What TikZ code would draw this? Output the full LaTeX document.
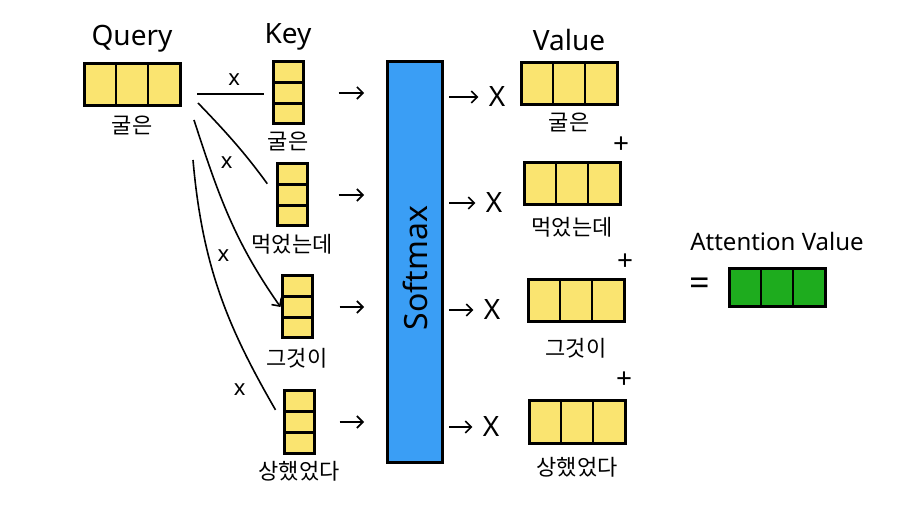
\documentclass[tikz,border=0pt]{standalone}
\usepackage{fontspec}
\setmainfont{Noto Sans}
\newfontfamily\kr{Noto Sans CJK KR}
\usepackage{xcolor}
\usetikzlibrary{positioning,arrows.meta}

\definecolor{cellyellow}{RGB}{250,228,112}
\definecolor{smblue}{RGB}{58,158,245}
\definecolor{attgreen}{RGB}{30,172,30}

\tikzset{
  hbox/.style={draw,line width=1.5pt,fill=cellyellow,minimum width=48pt,minimum height=21pt,inner sep=0pt,
    path picture={\draw[line width=1.2pt]
      ([xshift=-8pt]path picture bounding box.north) -- ([xshift=-8pt]path picture bounding box.south)
      ([xshift=8pt]path picture bounding box.north) -- ([xshift=8pt]path picture bounding box.south);}},
  vbox/.style={draw,line width=1.5pt,fill=cellyellow,minimum width=15pt,minimum height=31pt,inner sep=0pt,
    path picture={\draw[line width=1.2pt]
      ([yshift=-5.2pt]path picture bounding box.west) -- ([yshift=-5.2pt]path picture bounding box.east)
      ([yshift=5.2pt]path picture bounding box.west) -- ([yshift=5.2pt]path picture bounding box.east);}},
  word/.style={font=\kr\fontsize{11}{12}\selectfont,inner sep=1pt},
  head/.style={font=\fontsize{14}{16}\selectfont,inner sep=1pt},
  mul/.style={font=\fontsize{14}{14}\selectfont,inner sep=1pt},
  xlab/.style={font=\fontsize{11}{11}\selectfont,inner sep=1pt},
  link/.style={line width=0.8pt},
  go/.style={->,line width=0.8pt}
}

\begin{document}
\begin{tikzpicture}[x=0.5pt,y=-0.5pt,node distance=2pt,>={Straight Barb[length=3pt,width=6pt]}]
\useasboundingbox (0,0) rectangle (898,512);

% query
\node[hbox] (q) at (132,85) {};
\node[head,above=4pt of q] (qt) {Query};
\node[word,below=3pt of q] (ql) {굴은};

% keys
\node[vbox] (k1) at (288,93) {};
\node[vbox] (k2) at (292,195) {};
\node[vbox] (k3) at (297,307) {};
\node[vbox] (k4) at (299,422) {};
\node[head,above=4pt of k1] (kt) {Key};
\node[word,below=of k1] (kl1) {굴은};
\node[word,below=of k2] (kl2) {먹었는데};
\node[word,below=3pt of k3] (kl3) {그것이};
\node[word,below=of k4] (kl4) {상했었다};

% softmax
\node[draw,line width=1.5pt,fill=smblue,minimum width=27.5pt,minimum height=200pt] (sm) at (415,262) {};
\node[rotate=90,font=\fontsize{16}{18}\selectfont] (smt) at (415,268) {Softmax};

% values
\node[mul] (m1) at (497,97) {X};
\node[mul] (m2) at (494,203) {X};
\node[mul] (m3) at (492,310) {X};
\node[mul] (m4) at (491,427) {X};
\node[hbox] (v1) at (569,84) {};
\node[hbox] (v2) at (572,184) {};
\node[hbox] (v3) at (576,301) {};
\node[hbox] (v4) at (577,422) {};
\node[head,above=4pt of v1] (vt) {Value};
\node[word,below=2pt of v1] (vl1) {굴은};
\node[word,below=4pt of v2] (vl2) {먹었는데};
\node[word,below=6pt of v3] (vl3) {그것이};
\node[word,below=5pt of v4] (vl4) {상했었다};
\node[mul] (p1) at (621,145) {+};
\node[mul] (p2) at (625,262) {+};
\node[mul] (p3) at (624,380) {+};

% result
\node[hbox,fill=attgreen,minimum height=19pt] (att) at (777,288) {};
\node[head,font=\fontsize{12}{14}\selectfont,above=7pt of att] (attt) {Attention Value};
\node[mul,font=\fontsize{18}{18}\selectfont] (eq) at (700,287) {=};

% query x key
\coordinate (qa) at (197,94);
\coordinate (qb) at (198,103);
\coordinate (qc) at (194,120);
\coordinate (qd) at (193,160);
\draw[link,shorten >=4pt] (qa) -- node[above=3pt,xlab]{x} (qa -| k1.west);
\draw[link,shorten >=7pt] (qb) to[bend left=4] node[pos=0.68,left=8pt,xlab]{x} (k2.west);
\draw[link,->] (qc) to[out=-72,in=125] node[pos=0.72,left=8pt,xlab]{x} (k3.west);
\draw[link,shorten >=7pt] (qd) to[out=-85,in=120] node[pos=0.88,left=8pt,xlab]{x} (k4.west);

% into softmax
\draw[go,shorten <=17pt,shorten >=11pt] (k1.east) -- (k1.east -| sm.west);
\draw[go,shorten <=15pt,shorten >=11pt] (k2.east) -- (k2.east -| sm.west);
\draw[go,shorten <=13pt,shorten >=11pt] (k3.east) -- (k3.east -| sm.west);
\draw[go,shorten <=12pt,shorten >=11pt] (k4.east) -- (k4.east -| sm.west);

% out of softmax
\draw[go,shorten <=2.5pt,shorten >=4pt] (m1 -| sm.east) -- (m1.west);
\draw[go,shorten <=2.5pt,shorten >=4pt] (m2 -| sm.east) -- (m2.west);
\draw[go,shorten <=2.5pt,shorten >=4pt] (m3 -| sm.east) -- (m3.west);
\draw[go,shorten <=2.5pt,shorten >=4pt] (m4 -| sm.east) -- (m4.west);
\end{tikzpicture}
\end{document}
